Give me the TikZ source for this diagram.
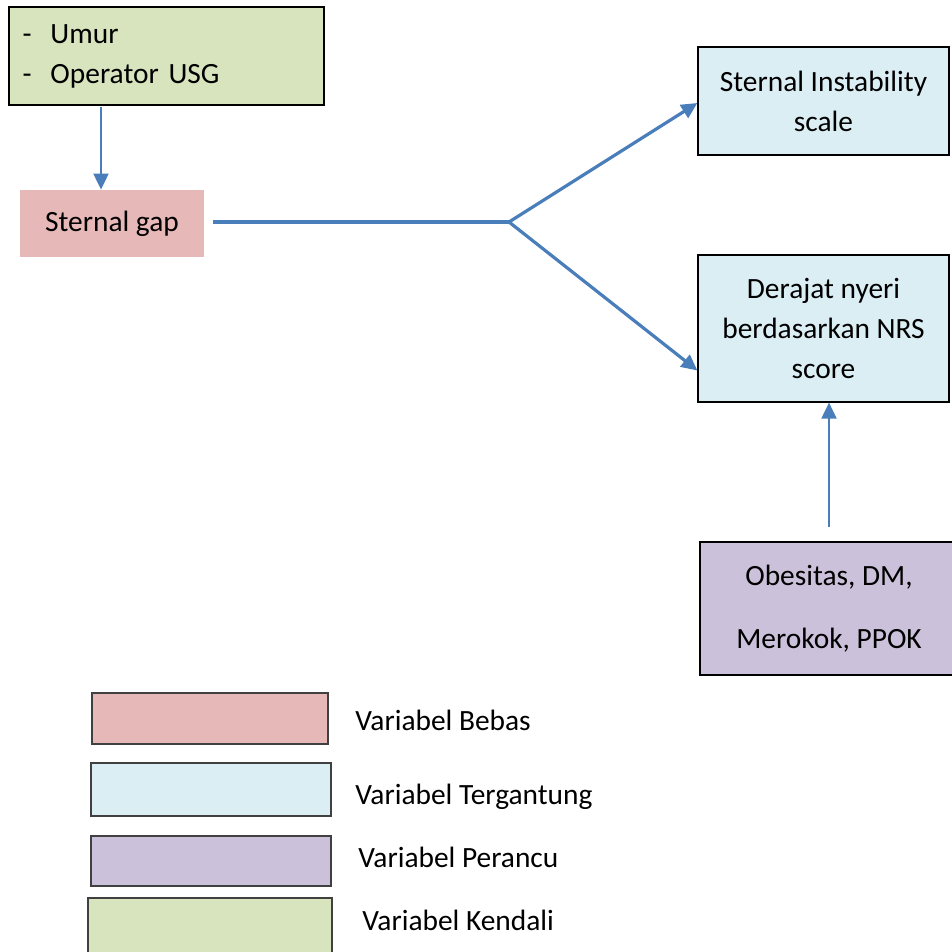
\documentclass[tikz,border=0pt]{standalone}
\usepackage{fontspec}
\setmainfont{Carlito}
\usetikzlibrary{arrows.meta}
\definecolor{kendali}{HTML}{D7E4BD}
\definecolor{bebas}{HTML}{E6B9B8}
\definecolor{tergantung}{HTML}{DBEEF4}
\definecolor{perancu}{HTML}{CCC1DA}
\definecolor{panah}{HTML}{4A7EBB}

\begin{document}
\begin{tikzpicture}[x=0.5pt, y=-0.5pt,
                    every node/.style = {font=\fontsize{14.7}{20}\selectfont, align=center, inner sep=0pt},
                    box/.style = {shape=rectangle, draw=black, line width=0.6pt},
                    legend/.style = {box, draw=black!75},
                    link/.style = {draw=panah, line width=1.6pt, -{Triangle[length=8pt, width=7.5pt]}},
                    thin link/.style = {link, line width=1pt}]

  \useasboundingbox (0,0) rectangle (952,952);

  \node[box, fill=kendali, minimum width=157.5pt, minimum height=49pt,
        text width=144pt, align=left] (kendali) at (166.5,56)
    {\makebox[14pt][l]{-}Umur\\ \makebox[14pt][l]{-}Operator USG};
  \node[fill=bebas, minimum width=92pt, minimum height=33.5pt] (gap) at (112,223.5) {Sternal gap};
  \node[box, fill=tergantung, minimum width=125.5pt, minimum height=54pt] (instab) at (823.5,101)
    {Sternal Instability\\ scale};
  \node[box, fill=tergantung, minimum width=125.5pt, minimum height=73.5pt] (nyeri) at (823.5,328.5)
    {Derajat nyeri\\ berdasarkan NRS\\ score};
  \node[box, fill=perancu, minimum width=129pt, minimum height=66.5pt,
        font=\fontsize{14.7}{31.5}\selectfont] (perancu) at (829,608.5)
    {Obesitas, DM,\\ Merokok, PPOK};

  \coordinate (cabang) at (509,222);
  \coordinate (k1) at (101,107);

  \draw[thin link] (k1) -- (k1 |- gap.north);
  \draw[draw=panah, line width=1.6pt] ([xshift=4.5pt]gap.east |- cabang) -- (cabang);
  \draw[link] (cabang) -- ([yshift=-1pt]instab.west);
  \draw[link] (cabang) -- ([yshift=-21pt]nyeri.west);
  \draw[thin link] ([yshift=7pt]perancu.north) -- (perancu.north |- nyeri.south);

  \node[legend, fill=bebas, minimum width=118pt, minimum height=25.5pt] (leg1) at (210,718.5) {};
  \node[legend, fill=tergantung, minimum width=120pt, minimum height=26.5pt] (leg2) at (211,789.5) {};
  \node[legend, fill=perancu, minimum width=120pt, minimum height=25pt] (leg3) at (211,861) {};
  \node[legend, fill=kendali, minimum width=122pt, minimum height=28.5pt] (leg4) at (210,926.5) {};

  \node[anchor=west] (lab1) at (355,720) {Variabel Bebas};
  \node[anchor=west] (lab2) at (355,797) {Variabel Tergantung};
  \node[anchor=west] (lab3) at (358,857) {Variabel Perancu};
  \node[anchor=west] (lab4) at (362,920) {Variabel Kendali};
\end{tikzpicture}
\end{document}
